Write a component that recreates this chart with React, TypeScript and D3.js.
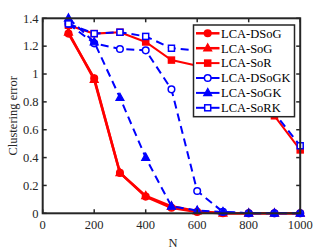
import React from 'react';
import * as d3 from 'd3';

const nValues = [100, 200, 300, 400, 500, 600, 700, 800, 900, 1000];
const dsog = [1.29, 0.97, 0.29, 0.12, 0.04, 0.01, 0, 0, 0, 0];
const sog = [1.3, 0.96, 0.29, 0.125, 0.05, 0.015, 0, 0, 0, 0];
const sor = [1.35, 1.29, 1.3, 1.23, 1.1, 1.06, 1.0, 0.88, 0.7, 0.455];
const dsogk = [1.36, 1.22, 1.18, 1.17, 0.89, 0.16, 0.01, 0, 0, 0];
const sogk = [1.4, 1.23, 0.83, 0.4, 0.05, 0.02, 0.01, 0, 0, 0];
const sork = [1.36, 1.29, 1.3, 1.27, 1.185, 1.17, 1.12, 1.0, 0.72, 0.485];

const xTicks = [0, 200, 400, 600, 800, 1000];
const yTicks = [0, 0.2, 0.4, 0.6, 0.8, 1, 1.2, 1.4];

type Series = { name: string; values: number[]; color: string; marker: string; filled: boolean; dashed: boolean; width: number };

const series: Series[] = [
  { name: 'LCA-DSoG', values: dsog, color: '#ff0000', marker: 'circle', filled: true, dashed: false, width: 2.5 },
  { name: 'LCA-SoG', values: sog, color: '#ff0000', marker: 'triangle', filled: true, dashed: false, width: 2.5 },
  { name: 'LCA-SoR', values: sor, color: '#ff0000', marker: 'square', filled: true, dashed: false, width: 2 },
  { name: 'LCA-DSoGK', values: dsogk, color: '#0000ff', marker: 'circle', filled: false, dashed: true, width: 2 },
  { name: 'LCA-SoGK', values: sogk, color: '#0000ff', marker: 'triangle', filled: true, dashed: true, width: 2 },
  { name: 'LCA-SoRK', values: sork, color: '#0000ff', marker: 'square', filled: false, dashed: true, width: 2 },
];

const font = '"Liberation Serif", "Times New Roman", serif';
const axisColor = '#262626';

function Marker({ type, x, y, color, filled }: { type: string; x: number; y: number; color: string; filled: boolean }) {
  const fill = filled ? color : '#fff';
  if (type === 'circle') return <circle cx={x} cy={y} r={3.3} fill={fill} stroke={color} strokeWidth={1.5} />;
  if (type === 'square') return <rect x={x - 3} y={y - 3} width={6} height={6} fill={fill} stroke={color} strokeWidth={1.5} />;
  return <path d={`M${x},${y - 4.5}L${x + 4},${y + 2.8}L${x - 4},${y + 2.8}Z`} fill={fill} stroke={color} strokeWidth={1.2} />;
}

export default function App() {
  const x = d3.scaleLinear().domain([0, 1000]).range([42.7, 300.2]);
  const y = d3.scaleLinear().domain([0, 1.4]).range([213.3, 18.3]);
  const line = d3.line<number>().x((_, i) => x(nValues[i])).y((v) => y(v));
  const [x0, x1] = x.range();
  const [y0, y1] = y.range();

  return (
    <svg width={332} height={249} style={{ position: 'absolute', left: 0, top: 0, background: '#fff' }}>
      {series.map((s) => (
        <g key={s.name}>
          <path d={line(s.values) || ''} fill="none" stroke={s.color} strokeWidth={s.width}
            strokeDasharray={s.dashed ? '8,5' : undefined} />
          {s.values.map((v, i) => (
            <Marker key={i} type={s.marker} x={x(nValues[i])} y={y(v)} color={s.color} filled={s.filled} />
          ))}
        </g>
      ))}
      <rect x={x0} y={y1} width={x1 - x0} height={y0 - y1} fill="none" stroke={axisColor} strokeWidth={2} />
      {xTicks.map((t) => (
        <g key={t}>
          <line x1={x(t)} x2={x(t)} y1={y0} y2={y0 - 4} stroke={axisColor} strokeWidth={1.5} />
          <line x1={x(t)} x2={x(t)} y1={y1} y2={y1 + 4} stroke={axisColor} strokeWidth={1.5} />
          <text x={x(t)} y={229} textAnchor="middle" fontFamily={font} fontSize={12.5} fill={axisColor}>{t}</text>
        </g>
      ))}
      {yTicks.map((t) => (
        <g key={t}>
          <line x1={x0} x2={x0 + 4} y1={y(t)} y2={y(t)} stroke={axisColor} strokeWidth={1.5} />
          <line x1={x1} x2={x1 - 4} y1={y(t)} y2={y(t)} stroke={axisColor} strokeWidth={1.5} />
          <text x={38.5} y={y(t) + 4.3} textAnchor="end" fontFamily={font} fontSize={12.5} fill={axisColor}>{d3.format('~g')(t)}</text>
        </g>
      ))}
      <text x={173} y={247} textAnchor="middle" fontFamily={font} fontSize={12.5} fill={axisColor}>N</text>
      <text transform={`translate(17,${(y0 + y1) / 2}) rotate(-90)`} textAnchor="middle" fontFamily={font} fontSize={12.5} fill={axisColor}>Clustering error</text>
      <g>
        <rect x={193.5} y={25} width={101} height={91.7} fill="#fff" stroke={axisColor} strokeWidth={1.5} />
        {series.map((s, i) => {
          const ly = 33.3 + i * 14.9;
          return (
            <g key={s.name}>
              <line x1={196} x2={219.5} y1={ly} y2={ly} stroke={s.color} strokeWidth={s.width} />
              <Marker type={s.marker} x={207.7} y={ly} color={s.color} filled={s.filled} />
              <text x={221} y={ly + 4.3} fontFamily={font} fontSize={12.5} fill="#000">{s.name}</text>
            </g>
          );
        })}
      </g>
    </svg>
  );
}
